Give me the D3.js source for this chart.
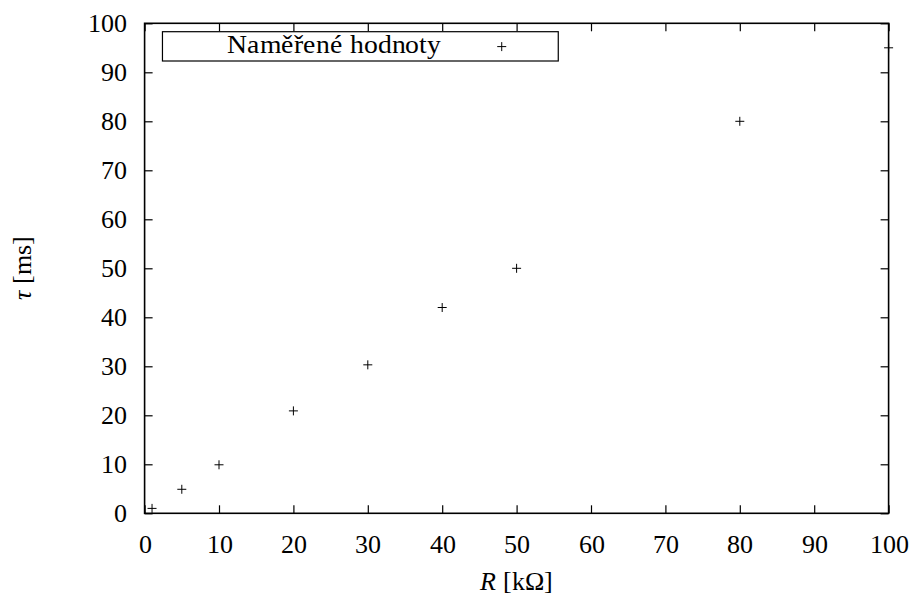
<!DOCTYPE html>
<html>
<head>
<meta charset="utf-8">
<script src="https://cdn.jsdelivr.net/npm/d3@7"></script>
<style>
  @font-face { font-family: "PlotSerif"; src: local("Liberation Serif"), local("LiberationSerif"), local("Liberation Serif Regular"); font-style: normal; }
  @font-face { font-family: "PlotSerif"; src: local("Liberation Serif Italic"), local("LiberationSerif-Italic"); font-style: italic; }
  #chart text { font-family: "PlotSerif", "Liberation Serif", serif; font-size: 26px; }
</style>
</head>
<body style="margin:0; background:#fff">
<svg id="chart" width="915" height="598"></svg>
<script>
// measured values (R in kOhm, tau in ms)
var resistances = [1, 5, 10, 20, 30, 40, 50, 80, 100];
var timeConsts  = [1, 4.9, 9.9, 20.9, 30.3, 42, 50, 80, 95];
var xTicks = [0, 10, 20, 30, 40, 50, 60, 70, 80, 90, 100];
var yTicks = [0, 10, 20, 30, 40, 50, 60, 70, 80, 90, 100];
var seriesName = "Naměřené hodnoty";

var width = 915, height = 598;
var margin = {top: 23.3, right: 26.4, bottom: 84.7, left: 144.6};
var plotW = width - margin.left - margin.right;
var plotH = height - margin.top - margin.bottom;

var svg = d3.select("#chart");

var g = svg.append("g")
    .attr("transform", "translate(" + margin.left + "," + margin.top + ")");

var x = d3.scaleLinear().domain([0, 100]).range([0, plotW]);
var y = d3.scaleLinear().domain([0, 100]).range([plotH, 0]);

// axes, ticks pointing inward on all four sides
var axisGroups = [
    g.append("g").attr("transform", "translate(0," + plotH + ")")
        .call(d3.axisBottom(x).tickValues(xTicks).tickSizeInner(-8).tickSizeOuter(0).tickPadding(21)),
    g.append("g")
        .call(d3.axisLeft(y).tickValues(yTicks).tickSizeInner(-8).tickSizeOuter(0).tickPadding(18)),
    g.append("g")
        .call(d3.axisTop(x).tickValues(xTicks).tickSizeInner(-8).tickSizeOuter(0).tickFormat("")),
    g.append("g").attr("transform", "translate(" + plotW + ",0)")
        .call(d3.axisRight(y).tickValues(yTicks).tickSizeInner(-8).tickSizeOuter(0).tickFormat(""))
];
// drop the sans-serif attribute d3 puts on axis groups
axisGroups.forEach(function(a) {
    a.attr("font-family", null).attr("font-size", null);
});

g.selectAll(".domain").remove();
g.selectAll(".tick line").attr("stroke", "#000").attr("stroke-width", 1.2);
g.selectAll(".tick text").attr("fill", "#000");

// frame
g.append("rect")
    .attr("x", 0).attr("y", 0)
    .attr("width", plotW).attr("height", plotH)
    .attr("fill", "none")
    .attr("stroke", "#000")
    .attr("stroke-width", 1.6);

// legend
var legend = g.append("g");
legend.append("rect")
    .attr("x", x(2.4)).attr("y", 8.4)
    .attr("width", x(55.6) - x(2.4)).attr("height", 29.3)
    .attr("fill", "#fff")
    .attr("stroke", "#000")
    .attr("stroke-width", 1.2);
legend.append("text")
    .attr("x", x(25.4)).attr("y", 30)
    .attr("text-anchor", "middle")
    .attr("textLength", 214)
    .attr("lengthAdjust", "spacingAndGlyphs")
    .text(seriesName);

function plus(sel, px, py, s) {
    sel.append("path")
        .attr("d", "M" + (px - s) + "," + py + "H" + (px + s) + "M" + px + "," + (py - s) + "V" + (py + s))
        .attr("stroke", "#000")
        .attr("stroke-width", 1)
        .attr("fill", "none");
}
plus(legend, x(48), 23.3, 4.5);

// data points
var pts = g.append("g");
resistances.forEach(function(r, i) {
    plus(pts, x(r), y(timeConsts[i]), 4.5);
});

// axis titles
var xt = svg.append("text")
    .attr("x", margin.left + plotW / 2)
    .attr("y", 590)
    .attr("text-anchor", "middle");
xt.append("tspan").attr("font-style", "italic").text("R");
xt.append("tspan").text(" [kΩ]");

var yt = svg.append("text")
    .attr("transform", "translate(31," + (margin.top + plotH / 2) + ") rotate(-90)")
    .attr("text-anchor", "middle");
yt.append("tspan").attr("font-style", "italic").text("τ");
yt.append("tspan").text(" [ms]");
</script>
</body>
</html>
